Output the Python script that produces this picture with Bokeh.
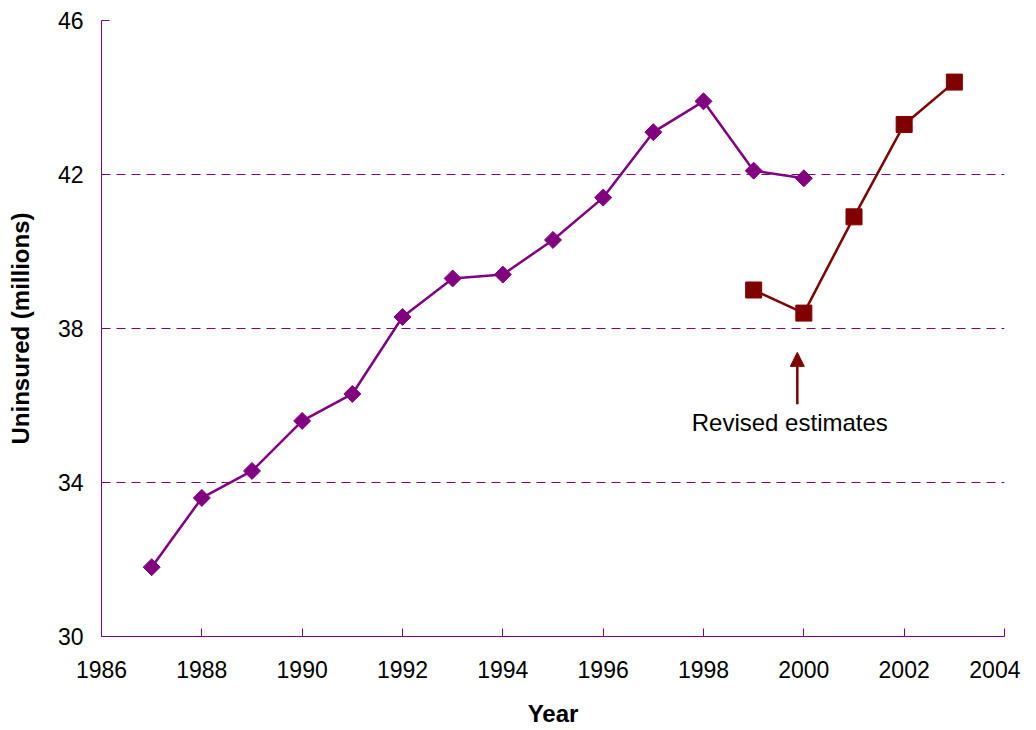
import math
from bokeh.plotting import figure
from bokeh.models import FixedTicker, Range1d, Arrow, NormalHead, Label
from bokeh.embed import file_html
from bokeh.resources import INLINE

years_a = [1987, 1988, 1989, 1990, 1991, 1992, 1993, 1994, 1995, 1996, 1997, 1998, 1999, 2000]
uninsured_a = [31.8, 33.6, 34.3, 35.6, 36.3, 38.3, 39.3, 39.4, 40.3, 41.4, 43.1, 43.9, 42.1, 41.9]
years_b = [1999, 2000, 2001, 2002, 2003]
uninsured_b = [39.0, 38.4, 40.9, 43.3, 44.4]
x_ticks = [1986, 1988, 1990, 1992, 1994, 1996, 1998, 2000, 2002, 2004]
y_ticks = [30, 34, 38, 42, 46]
grid_ticks = [34, 38, 42]
note_text = "Revised estimates"
note_x, note_y = 1999.72, 35.56
arrow_x, arrow_y0, arrow_y1 = 1999.87, 36.03, 37.38

PURPLE = "#800080"
DARKRED = "#800000"
FONT = "Liberation Sans"

p = figure(width=1020, height=730, output_backend="svg", toolbar_location=None,
           x_range=Range1d(1986, 2004), y_range=Range1d(30, 46),
           min_border_left=101, min_border_right=16, min_border_top=20, min_border_bottom=94)
p.outline_line_color = None
p.background_fill_color = "white"

p.xgrid.visible = False
p.ygrid.ticker = FixedTicker(ticks=grid_ticks)
p.ygrid.grid_line_color = PURPLE
p.ygrid.grid_line_dash = "9 6"
p.ygrid.grid_line_width = 1

for ax, ticks in ((p.xaxis, x_ticks), (p.yaxis, y_ticks)):
    ax.ticker = FixedTicker(ticks=ticks)
    ax.axis_line_color = PURPLE
    ax.major_tick_line_color = PURPLE
    ax.axis_line_width = 1
    ax.major_tick_in = 8
    ax.major_tick_out = 0
    ax.minor_tick_line_color = None
    ax.major_label_text_font = FONT
    ax.major_label_text_font_size = "23px"
    ax.major_label_text_color = "black"
    ax.axis_label_text_font = FONT
    ax.axis_label_text_font_size = "24px"
    ax.axis_label_text_font_style = "bold"
    ax.axis_label_text_color = "black"

p.xaxis.axis_label = "Year"
p.yaxis.axis_label = "Uninsured (millions)"
p.xaxis.major_label_standoff = 24
p.yaxis.major_label_standoff = 18
p.xaxis.axis_label_standoff = 19
p.yaxis.axis_label_standoff = 21

p.line(years_a, uninsured_a, line_color=PURPLE, line_width=2.5)
p.scatter(years_a, uninsured_a, marker="square", angle=math.pi / 4, size=12,
          fill_color=PURPLE, line_color=PURPLE)
p.line(years_b, uninsured_b, line_color=DARKRED, line_width=2.5)
p.scatter(years_b, uninsured_b, marker="square", size=16, fill_color=DARKRED, line_color=DARKRED)

p.add_layout(Arrow(end=NormalHead(size=14, fill_color=DARKRED, line_color=DARKRED),
                   x_start=arrow_x, y_start=arrow_y0, x_end=arrow_x, y_end=arrow_y1,
                   line_color=DARKRED, line_width=2.5))
p.add_layout(Label(x=note_x, y=note_y, text=note_text, text_font=FONT, text_font_size="24px",
                   text_align="center", text_baseline="middle", text_color="black"))

open("out.html", "w").write(file_html(p, INLINE))
